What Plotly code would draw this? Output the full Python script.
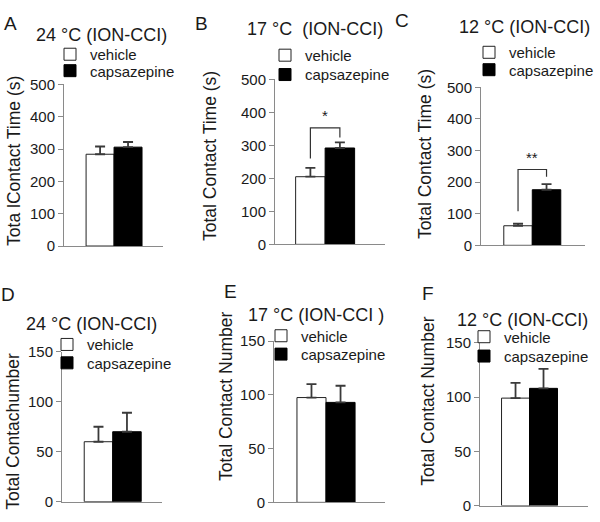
import plotly.graph_objects as go

W, H = 600, 522
FONT = "Arial, Liberation Sans, sans-serif"

# ---------------- data ----------------
panel_letters = ["A", "B", "C", "D", "E", "F"]
panel_titles = ["24 °C (ION-CCI)", "17 °C  (ION-CCI)", "12 °C (ION-CCI)",
                "24 °C (ION-CCI)", "17 °C (ION-CCI )", "12 °C (ION-CCI)"]
y_labels = ["Tota lContact Time (s)", "Total Contact Time (s)", "Total Contact Time (s)",
            "Total Contachumber", "Total Contact Number", "Total Contact Number"]
groups = ["vehicle", "capsazepine"]
vehicle_mean = [284, 205, 62, 60, 97.5, 99]
vehicle_err = [24, 27, 7, 15, 12.5, 14]
caps_mean = [306, 292, 176, 70, 93, 108]
caps_err = [16, 17, 18, 19, 15.5, 18]
y_max = [500, 500, 500, 150, 150, 150]
y_dtick = [100, 100, 100, 50, 50, 50]
# significance brackets (panel index, left leg bottom, top, right leg bottom, label)
sig_panel = [1, 2]
sig_left = [260, 108]
sig_top = [353, 240]
sig_right = [324, 217]
sig_label = ["*", "**"]

# ---------------- layout geometry (pixels) ----------------
x_dom_px = [(64, 163), (275, 385), (481, 585), (62, 162), (274, 385), (480, 588)]
y_dom_px = [(78, 245), (72.7, 243.3), (81, 244.3), (354.3, 509.3), (343.3, 510), (345, 513.3)]
x_ranges = [(-1.29, 2.25), (-1.20, 2.53), (-1.30, 2.35), (-1.28, 2.23), (-1.29, 2.53), (-1.27, 2.59)]
letter_pos = [(10, 15), (201, 15), (402, 12), (8, 295), (230, 292), (428, 294)]
title_pos = [(101, 27), (315, 21), (524, 19), (91, 326), (316, 316), (522, 321)]
ylab_pos = [(14, 157), (210, 152), (425, 150), (13, 437), (226, 401), (428, 406)]
# legend text start x, vehicle row y, capsazepine row y
legend_text_x = [87, 302, 506, 84, 298, 501]
legend_row1_y = [47, 48, 45, 347, 338, 339]
legend_row2_y = [64, 68, 63, 366, 357, 359]

def px(x):
    return x / W

def py(y):
    return 1 - y / H

fig = go.Figure()
annotations = []
layout = {}

for i in range(6):
    n = "" if i == 0 else str(i + 1)
    xa, ya = "x" + n, "y" + n
    leg_v = "legend" + ("" if i == 0 else str(2 * i + 1))
    leg_c = "legend" + str(2 * i + 2)
    fig.add_trace(go.Bar(
        x=[groups[0]], y=[vehicle_mean[i]], name=groups[0], width=1.0,
        marker=dict(color="white", line=dict(color="#222222", width=1)),
        error_y=dict(type="data", array=[vehicle_err[i]], arrayminus=[0], symmetric=False,
                     color="#3a3a3a", thickness=1.8, width=5),
        xaxis=xa, yaxis=ya, legend=leg_v, showlegend=True))
    fig.add_trace(go.Bar(
        x=[groups[1]], y=[caps_mean[i]], name=groups[1], width=1.0,
        marker=dict(color="black", line=dict(color="black", width=1)),
        error_y=dict(type="data", array=[caps_err[i]], arrayminus=[0], symmetric=False,
                     color="#3a3a3a", thickness=1.8, width=5),
        xaxis=xa, yaxis=ya, legend=leg_c, showlegend=True))

    layout["xaxis" + n] = dict(
        domain=[px(x_dom_px[i][0]), px(x_dom_px[i][1])], range=list(x_ranges[i]),
        type="category", categoryorder="array", categoryarray=groups,
        showticklabels=False, ticks="", showgrid=False, zeroline=False,
        showline=True, linecolor="#8a8a8a", linewidth=1, anchor=ya, fixedrange=True)
    layout["yaxis" + n] = dict(
        domain=[py(y_dom_px[i][1]), py(y_dom_px[i][0])], range=[0, y_max[i]],
        dtick=y_dtick[i], tick0=0, ticks="outside", ticklen=5, tickcolor="#8a8a8a",
        showgrid=False, zeroline=False, showline=True, linecolor="#8a8a8a", linewidth=1,
        tickfont=dict(size=15, color="#1a1a1a", family=FONT), anchor=xa, fixedrange=True)
    for leg, ry in ((leg_v, legend_row1_y[i]), (leg_c, legend_row2_y[i])):
        layout[leg] = dict(x=px(legend_text_x[i] - 37), y=py(ry), xanchor="left", yanchor="middle",
                           bgcolor="rgba(0,0,0,0)", font=dict(size=15, color="#1a1a1a", family=FONT),
                           itemwidth=30)

    annotations.append(dict(text=panel_letters[i], x=px(letter_pos[i][0]), y=py(letter_pos[i][1]),
                            xref="paper", yref="paper", showarrow=False, xanchor="center", yanchor="middle",
                            font=dict(size=19, color="#1a1a1a", family=FONT)))
    annotations.append(dict(text=panel_titles[i], x=px(title_pos[i][0]), y=py(title_pos[i][1]),
                            xref="paper", yref="paper", showarrow=False, xanchor="center", yanchor="middle",
                            font=dict(size=18, color="#1a1a1a", family=FONT)))
    annotations.append(dict(text=y_labels[i], x=px(ylab_pos[i][0]), y=py(ylab_pos[i][1]),
                            xref="paper", yref="paper", showarrow=False, xanchor="center", yanchor="middle",
                            textangle=-90, font=dict(size=17.5, color="#1a1a1a", family=FONT)))

for k in range(len(sig_panel)):
    i = sig_panel[k]
    n = "" if i == 0 else str(i + 1)
    fig.add_trace(go.Scatter(
        x=[groups[0], groups[0], groups[1], groups[1]],
        y=[sig_left[k], sig_top[k], sig_top[k], sig_right[k]],
        mode="lines", line=dict(color="#333333", width=1.2),
        xaxis="x" + n, yaxis="y" + n, showlegend=False, hoverinfo="skip"))
    annotations.append(dict(text=sig_label[k], x=0.5, y=sig_top[k], xref="x" + n, yref="y" + n,
                            showarrow=False, xanchor="center", yanchor="bottom", yshift=2,
                            font=dict(size=15, color="#1a1a1a", family=FONT)))

fig.update_layout(
    width=W, height=H, margin=dict(l=0, r=0, t=0, b=0),
    paper_bgcolor="white", plot_bgcolor="white",
    barmode="overlay", annotations=annotations,
    font=dict(family=FONT, color="#1a1a1a"),
    **layout)

fig.write_html("out.html", config={"displayModeBar": False},
               post_script="document.body.style.margin='0';document.body.style.padding='0';"
                           "document.documentElement.style.overflow='hidden';")
